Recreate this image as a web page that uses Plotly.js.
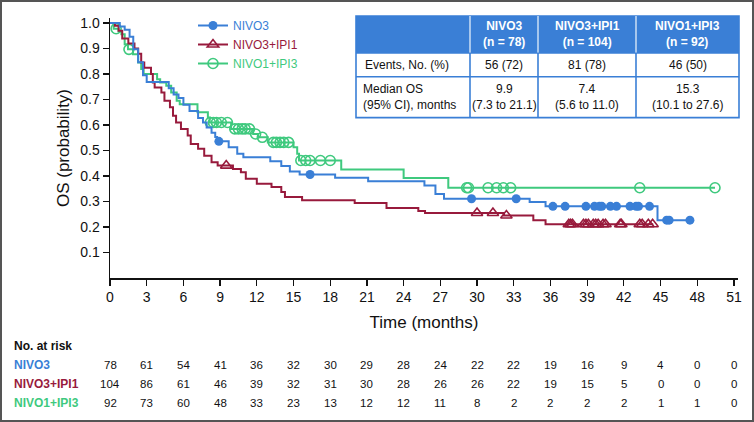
<!DOCTYPE html>
<html>
<head>
<meta charset="utf-8">
<script src="https://cdn.plot.ly/plotly-3.0.1.min.js"></script>
<style>
  html, body { margin: 0; padding: 0; background: #fff; }
  #frame { width: 754px; height: 422px; box-sizing: border-box; border: 2px solid #555; position: relative; overflow: hidden; }
  #chart { position: absolute; left: -2px; top: -2px; width: 754px; height: 422px; }
</style>
</head>
<body>
<div id="frame"><div id="chart"></div></div>
<script>
// ---------------- DATA ----------------
const seriesNames = ["NIVO3", "NIVO3+IPI1", "NIVO1+IPI3"];

// NIVO3 step curve (time in months, survival probability)
const nivo3Time = [0, 0.8, 1.2, 1.6, 1.9, 2.3, 2.7, 3.0, 4.8, 5.2, 5.6, 6.0, 6.5, 7.2, 7.6, 7.9, 8.3, 8.6, 8.75, 9.7, 10.4, 10.9, 13.1, 14.0, 14.7, 15.5, 18.4, 21.1, 25.7, 26.6, 27.3, 34.3, 35.6, 44.75, 47.4];
const nivo3Surv = [1.0, 0.987, 0.974, 0.946, 0.897, 0.846, 0.795, 0.769, 0.744, 0.72, 0.706, 0.68, 0.655, 0.628, 0.61, 0.59, 0.57, 0.553, 0.536, 0.513, 0.487, 0.474, 0.458, 0.439, 0.418, 0.406, 0.393, 0.38, 0.363, 0.33, 0.311, 0.298, 0.281, 0.227, 0.227];
const nivo3CensTime = [8.9, 16.35, 29.55, 33.2, 36.2, 37.2, 38.9, 39.6, 40.0, 40.2, 40.9, 41.4, 42.5, 43.0, 43.2, 44.1, 45.5, 45.7, 47.4];
const nivo3CensSurv = [0.536, 0.406, 0.311, 0.311, 0.281, 0.281, 0.281, 0.281, 0.281, 0.281, 0.281, 0.281, 0.281, 0.281, 0.281, 0.281, 0.227, 0.227, 0.227];

// NIVO3+IPI1 step curve
const nivo3ipi1Time = [0, 0.4, 0.7, 1.0, 1.5, 2.0, 2.3, 2.55, 2.8, 3.35, 3.5, 3.65, 4.2, 4.45, 4.9, 5.15, 5.4, 5.8, 6.35, 6.6, 7.2, 7.7, 8.3, 8.8, 10.05, 10.7, 11.1, 12.0, 13.2, 14.0, 14.3, 15.7, 20.0, 22.6, 25.2, 25.75, 32.2, 34.6, 35.6, 44.4];
const nivo3ipi1Surv = [1.0, 0.99, 0.97, 0.94, 0.92, 0.90, 0.88, 0.845, 0.825, 0.80, 0.767, 0.747, 0.728, 0.695, 0.67, 0.637, 0.61, 0.585, 0.559, 0.526, 0.507, 0.48, 0.454, 0.441, 0.428, 0.415, 0.389, 0.37, 0.357, 0.337, 0.318, 0.305, 0.294, 0.275, 0.263, 0.255, 0.245, 0.227, 0.211, 0.211];
const nivo3ipi1CensTime = [9.5, 30.0, 31.3, 32.4, 37.5, 37.65, 37.8, 38.7, 38.9, 39.1, 39.5, 39.7, 39.9, 40.3, 40.5, 41.7, 41.8, 43.3, 43.5, 44.0, 44.35];
const nivo3ipi1CensSurv = [0.441, 0.255, 0.255, 0.245, 0.211, 0.211, 0.211, 0.211, 0.211, 0.211, 0.211, 0.211, 0.211, 0.211, 0.211, 0.211, 0.211, 0.211, 0.211, 0.211, 0.211];

// NIVO1+IPI3 step curve
const nivo1ipi3Time = [0, 0.3, 0.7, 0.93, 1.2, 1.47, 1.88, 2.3, 2.55, 2.75, 3.85, 4.1, 4.6, 5.0, 5.45, 5.7, 7.15, 8.0, 8.15, 9.9, 11.7, 12.1, 12.9, 15.0, 15.3, 15.45, 18.9, 24.0, 27.65, 49.45];
const nivo1ipi3Surv = [1.0, 0.978, 0.967, 0.956, 0.917, 0.897, 0.878, 0.845, 0.82, 0.80, 0.78, 0.767, 0.754, 0.728, 0.695, 0.682, 0.65, 0.63, 0.61, 0.585, 0.565, 0.552, 0.532, 0.513, 0.487, 0.461, 0.426, 0.392, 0.354, 0.354];
const nivo1ipi3CensTime = [0.5, 1.55, 8.2, 8.45, 8.7, 9.1, 9.6, 10.2, 10.5, 10.8, 11.05, 11.4, 11.9, 12.45, 13.35, 13.6, 13.9, 14.2, 14.6, 15.6, 16.0, 16.35, 17.2, 18.0, 29.15, 29.3, 30.9, 31.6, 32.15, 32.75, 43.3, 49.45];
const nivo1ipi3CensSurv = [0.978, 0.897, 0.61, 0.61, 0.61, 0.61, 0.61, 0.585, 0.585, 0.585, 0.585, 0.585, 0.565, 0.552, 0.532, 0.532, 0.532, 0.532, 0.532, 0.461, 0.461, 0.461, 0.461, 0.461, 0.354, 0.354, 0.354, 0.354, 0.354, 0.354, 0.354, 0.354];

// Axis ticks
const xTickVals = [0, 3, 6, 9, 12, 15, 18, 21, 24, 27, 30, 33, 36, 39, 42, 45, 48, 51];
const yTickVals = [0.1, 0.2, 0.3, 0.4, 0.5, 0.6, 0.7, 0.8, 0.9, 1.0];
const yTickText = ["0.1", "0.2", "0.3", "0.4", "0.5", "0.6", "0.7", "0.8", "0.9", "1.0"];

// Number at risk
const atRiskTimes = [0, 3, 6, 9, 12, 15, 18, 21, 24, 27, 30, 33, 36, 39, 42, 45, 48, 51];
const atRiskNivo3 = [78, 61, 54, 41, 36, 32, 30, 29, 28, 24, 22, 22, 19, 16, 9, 4, 0, 0];
const atRiskNivo3Ipi1 = [104, 86, 61, 46, 39, 32, 31, 30, 28, 26, 26, 22, 19, 15, 5, 0, 0, 0];
const atRiskNivo1Ipi3 = [92, 73, 60, 48, 33, 23, 13, 12, 12, 11, 8, 2, 2, 2, 2, 1, 1, 0];

// Summary table
const tableHeader = ["NIVO3<br>(n = 78)", "NIVO3+IPI1<br>(n = 104)", "NIVO1+IPI3<br>(n = 92)"];
const tableRowLabels = ["Events, No. (%)", "Median OS<br>(95% CI), months"];
const eventsRow = ["56 (72)", "81 (78)", "46 (50)"];
const medianRow = ["9.9<br>(7.3 to 21.1)", "7.4<br>(5.6 to 11.0)", "15.3<br>(10.1 to 27.6)"];

// ---------------- STYLE ----------------
const colors = ["#3a7fd6", "#981a3c", "#3fc97e"];
const FONT = "'Liberation Sans', Arial, Helvetica, sans-serif";

const L = 110, T = 17, W = 628, H = 261;
const px = v => (v - L) / W;
const py = v => (T + H - v) / H;

const curves = [
  [nivo3Time, nivo3Surv, nivo3CensTime, nivo3CensSurv, {symbol: "circle", size: 9, color: colors[0], line: {width: 0}}],
  [nivo3ipi1Time, nivo3ipi1Surv, nivo3ipi1CensTime, nivo3ipi1CensSurv, {symbol: "triangle-up-open", size: 10, color: colors[1], line: {width: 1.6, color: colors[1]}}],
  [nivo1ipi3Time, nivo1ipi3Surv, nivo1ipi3CensTime, nivo1ipi3CensSurv, {symbol: "circle-open", size: 10, color: colors[2], line: {width: 1.6, color: colors[2]}}]
];

const traces = [];
[2, 1, 0].forEach(i => {
  const c = curves[i];
  traces.push({x: c[0], y: c[1], type: "scatter", mode: "lines", line: {shape: "hv", color: colors[i], width: 2}, showlegend: false, hoverinfo: "skip"});
  traces.push({x: c[2], y: c[3], type: "scatter", mode: "markers", marker: c[4], showlegend: false, hoverinfo: "skip"});
});
[0, 1, 2].forEach(i => {
  traces.push({x: [null], y: [null], type: "scatter", mode: "lines+markers", name: '<span style="color:' + colors[i] + '">' + seriesNames[i] + '</span>',
    line: {color: colors[i], width: 2}, marker: curves[i][4], hoverinfo: "skip"});
});

// ---------------- TABLE (shapes + annotations) ----------------
const tL = 356, tR = 739, tTop = 15, tHead = 52, tRow1 = 76, tBot = 117;
const colB = [470, 538, 636, 739];
const colC = [504, 587, 687.5];
const shapes = [];
const annotations = [];
shapes.push({type: "rect", xref: "paper", yref: "paper", x0: px(tL), x1: px(tR), y0: py(tHead), y1: py(tTop), fillcolor: colors[0], line: {width: 0}, layer: "above"});
shapes.push({type: "rect", xref: "paper", yref: "paper", x0: px(tL), x1: px(tR), y0: py(tBot), y1: py(tHead), fillcolor: "#ffffff", line: {width: 0}, layer: "above"});
shapes.push({type: "rect", xref: "paper", yref: "paper", x0: px(tL), x1: px(tR), y0: py(tBot), y1: py(tTop), line: {color: colors[0], width: 1.6}, layer: "above"});
[tHead, tRow1].forEach(yv => shapes.push({type: "line", xref: "paper", yref: "paper", x0: px(tL), x1: px(tR), y0: py(yv), y1: py(yv), line: {color: colors[0], width: 1.6}, layer: "above"}));
colB.slice(0, 3).forEach(xv => {
  shapes.push({type: "line", xref: "paper", yref: "paper", x0: px(xv), x1: px(xv), y0: py(tHead), y1: py(tTop), line: {color: "#d6e5f7", width: 1.4}, layer: "above"});
  shapes.push({type: "line", xref: "paper", yref: "paper", x0: px(xv), x1: px(xv), y0: py(tBot), y1: py(tHead), line: {color: colors[0], width: 1.6}, layer: "above"});
});
tableHeader.forEach((t, i) => annotations.push({xref: "paper", yref: "paper", x: px(colC[i]), y: py((tTop + tHead) / 2), text: "<b>" + t.replace("<br>", "</b><br><b>") + "</b>", showarrow: false, xanchor: "center", yanchor: "middle", font: {family: FONT, size: 12, color: "#ffffff"}, align: "center"}));
annotations.push({xref: "paper", yref: "paper", x: px(tL + 7), y: py((tHead + tRow1) / 2), text: tableRowLabels[0], showarrow: false, xanchor: "left", yanchor: "middle", font: {family: FONT, size: 12, color: "#111"}, align: "left"});
annotations.push({xref: "paper", yref: "paper", x: px(tL + 5), y: py((tRow1 + tBot) / 2), text: tableRowLabels[1], showarrow: false, xanchor: "left", yanchor: "middle", font: {family: FONT, size: 12, color: "#111"}, align: "left"});
eventsRow.forEach((t, i) => annotations.push({xref: "paper", yref: "paper", x: px(colC[i]), y: py((tHead + tRow1) / 2), text: t, showarrow: false, xanchor: "center", yanchor: "middle", font: {family: FONT, size: 12, color: "#111"}}));
medianRow.forEach((t, i) => annotations.push({xref: "paper", yref: "paper", x: px(colC[i]), y: py((tRow1 + tBot) / 2), text: t, showarrow: false, xanchor: "center", yanchor: "middle", font: {family: FONT, size: 12, color: "#111"}, align: "center"}));

// ---------------- AT RISK ----------------
annotations.push({xref: "paper", yref: "paper", x: px(12), y: py(346), text: "<b>No. at risk</b>", showarrow: false, xanchor: "left", yanchor: "middle", font: {family: FONT, size: 12, color: "#111"}});
const riskRows = [atRiskNivo3, atRiskNivo3Ipi1, atRiskNivo1Ipi3];
const riskY = [365, 384, 403];
riskRows.forEach((row, r) => {
  annotations.push({xref: "paper", yref: "paper", x: px(12), y: py(riskY[r]), text: "<b>" + seriesNames[r] + "</b>", showarrow: false, xanchor: "left", yanchor: "middle", font: {family: FONT, size: 12, color: colors[r]}});
  row.forEach((v, i) => annotations.push({xref: "x", yref: "paper", x: atRiskTimes[i], y: py(riskY[r]), text: String(v), showarrow: false, xanchor: "center", yanchor: "middle", font: {family: FONT, size: 11.5, color: "#111"}}));
});

const layout = {
  width: 754, height: 422,
  margin: {l: L, r: 754 - L - W, t: T, b: 422 - T - H, pad: 0},
  paper_bgcolor: "rgba(0,0,0,0)", plot_bgcolor: "#ffffff",
  showlegend: true,
  legend: {x: px(193), y: py(11), xanchor: "left", yanchor: "top", bgcolor: "rgba(0,0,0,0)", font: {family: FONT, size: 12}, itemwidth: 30, tracegroupgap: 0},
  xaxis: {range: [0, 51.33], tickvals: xTickVals, ticks: "outside", ticklen: 6, tickwidth: 1.3, tickcolor: "#111", showline: true, linecolor: "#111", linewidth: 1.5, showgrid: false, zeroline: false,
    tickfont: {family: FONT, size: 14, color: "#111"},
    title: {text: "Time (months)", font: {family: FONT, size: 17, color: "#111"}, standoff: 12}},
  yaxis: {range: [0, 1.02], tickvals: yTickVals, ticktext: yTickText, ticks: "outside", ticklen: 6, tickwidth: 1.3, tickcolor: "#111", showline: true, linecolor: "#111", linewidth: 1.5, showgrid: false, zeroline: false,
    tickfont: {family: FONT, size: 14, color: "#111"},
    title: {text: "OS (probability)", font: {family: FONT, size: 17, color: "#111"}, standoff: 6}},
  shapes: shapes,
  annotations: annotations
};

Plotly.newPlot("chart", traces, layout, {staticPlot: true, displayModeBar: false});
</script>
</body>
</html>
